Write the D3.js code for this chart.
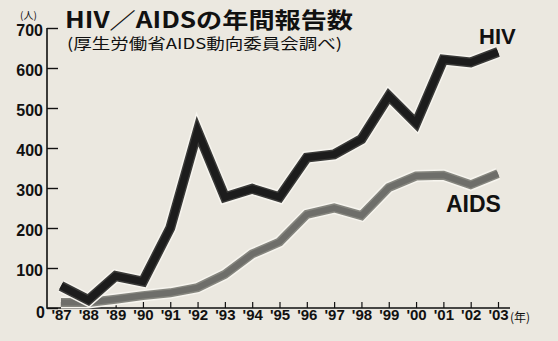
<!DOCTYPE html>
<html>
<head>
<meta charset="utf-8">
<script src="https://cdn.jsdelivr.net/npm/d3@7"></script>
<style>
  html, body { margin: 0; padding: 0; background: #ebe8e0; }
  svg { display: block; }
  .tick text { font-family: "Liberation Sans", Arial, sans-serif; font-weight: bold; fill: #111; }
</style>
</head>
<body>
<div id="wrapper"></div>
<script>
var years = [1987, 1988, 1989, 1990, 1991, 1992, 1993, 1994, 1995, 1996, 1997, 1998, 1999, 2000, 2001, 2002, 2003];
var hiv  = [55, 20, 80, 66, 200, 442, 277, 298, 277, 376, 384, 422, 530, 462, 621, 614, 640];
var aids = [14, 14, 22, 31, 38, 51, 84, 135, 165, 234, 250, 231, 301, 330, 332, 308, 336];
var yTicks = [0, 100, 200, 300, 400, 500, 600, 700];

var W = 558, H = 341;
var axisX = 47;

var svg = d3.select('#wrapper')
  .append('svg')
  .attr('width', W)
  .attr('height', H);

svg.append('rect').attr('width', W).attr('height', H).style('fill', '#ebe8e0');

var x = d3.scaleLinear().domain([1987, 2003]).range([61, 498]);
var y = d3.scaleLinear().domain([0, 700]).range([308, 28]);

// y axis: ticks pointing inward
var yAxis = d3.axisLeft(y)
  .tickValues(yTicks)
  .tickSizeInner(-11)
  .tickSizeOuter(0)
  .tickPadding(4);

var gy = svg.append('g')
  .attr('transform', 'translate(' + axisX + ',0)')
  .call(yAxis);
gy.select('.domain').remove();
gy.selectAll('.tick line').style('stroke', '#111').style('stroke-width', 1.4);
gy.selectAll('.tick text').style('font-size', '16px').attr('dy', '0.45em');
gy.selectAll('.tick').filter(function(d){ return d === 0; }).select('text').attr('x', -2).attr('dy', '0.6em');

// x axis: ticks pointing up
var xAxis = d3.axisBottom(x)
  .tickValues(years)
  .tickSizeInner(-6)
  .tickSizeOuter(0)
  .tickPadding(4)
  .tickFormat(function(d){ return "'" + String(d).slice(2); });

var gx = svg.append('g')
  .attr('transform', 'translate(0,' + y(0) + ')')
  .call(xAxis);
gx.select('.domain').remove();
gx.selectAll('.tick line').style('stroke', '#111').style('stroke-width', 1.2);
gx.selectAll('.tick text').style('font-size', '15px').attr('dy', '0.55em');

// axis lines
svg.append('path')
  .attr('d', 'M' + axisX + ',' + y(700) + 'V' + y(0) + 'H' + (x(2003) + 12))
  .style('fill', 'none')
  .style('stroke', '#111')
  .style('stroke-width', 1.6);

// lines
var line = d3.line()
  .x(function(d){ return x(d[0]); })
  .y(function(d){ return y(d[1]); });

var aidsPts = years.map(function(d, i){ return [d, aids[i]]; });
var hivPts = years.map(function(d, i){ return [d, hiv[i]]; });

function drawSeries(pts, outer, inner, w) {
  svg.append('path').datum(pts).attr('d', line)
    .style('fill', 'none').style('stroke', '#f7f5ef').style('stroke-width', w + 3)
    .style('stroke-linejoin', 'miter');
  svg.append('path').datum(pts).attr('d', line)
    .style('fill', 'none').style('stroke', outer).style('stroke-width', w)
    .style('stroke-linejoin', 'miter');
  svg.append('path').datum(pts).attr('d', line)
    .style('fill', 'none').style('stroke', inner).style('stroke-width', w - 3)
    .style('stroke-linejoin', 'miter');
}
drawSeries(aidsPts, '#86867f', '#6e6e6a', 9);
drawSeries(hivPts, '#3a3a38', '#1c1c1c', 10);

// series labels
svg.append('text').text('HIV')
  .attr('x', x(2003) - 19).attr('y', 44)
  .style('font-family', '"Liberation Sans", Arial, sans-serif')
  .style('font-weight', 'bold').style('font-size', '22px').style('fill', '#111');
svg.append('text').text('AIDS')
  .attr('x', x(2003) - 52).attr('y', 212)
  .style('font-family', '"Liberation Sans", Arial, sans-serif')
  .style('font-weight', 'bold').style('font-size', '23px').style('fill', '#111');

// title and notes
svg.append('text').text('HIV／AIDSの年間報告数')
  .attr('x', 65).attr('y', 28)
  .attr('textLength', 288).attr('lengthAdjust', 'spacingAndGlyphs')
  .style('font-family', '"Noto Sans CJK JP", sans-serif')
  .style('font-weight', 'bold').style('font-size', '22px').style('fill', '#111');
svg.append('text').text('(厚生労働省AIDS動向委員会調べ)')
  .attr('x', 67).attr('y', 49)
  .attr('textLength', 275).attr('lengthAdjust', 'spacingAndGlyphs')
  .style('font-family', '"Noto Sans CJK JP", sans-serif')
  .style('font-weight', 'normal').style('font-size', '15px').style('fill', '#111');
svg.append('text').text('(人)')
  .attr('x', 20).attr('y', 19)
  .style('font-family', '"Noto Sans CJK JP", sans-serif')
  .style('font-size', '10px').style('fill', '#111');
svg.append('text').text('(年)')
  .attr('x', x(2003) + 12).attr('y', 322)
  .style('font-family', '"Noto Sans CJK JP", sans-serif')
  .style('font-size', '12px').style('fill', '#111');
</script>
</body>
</html>
